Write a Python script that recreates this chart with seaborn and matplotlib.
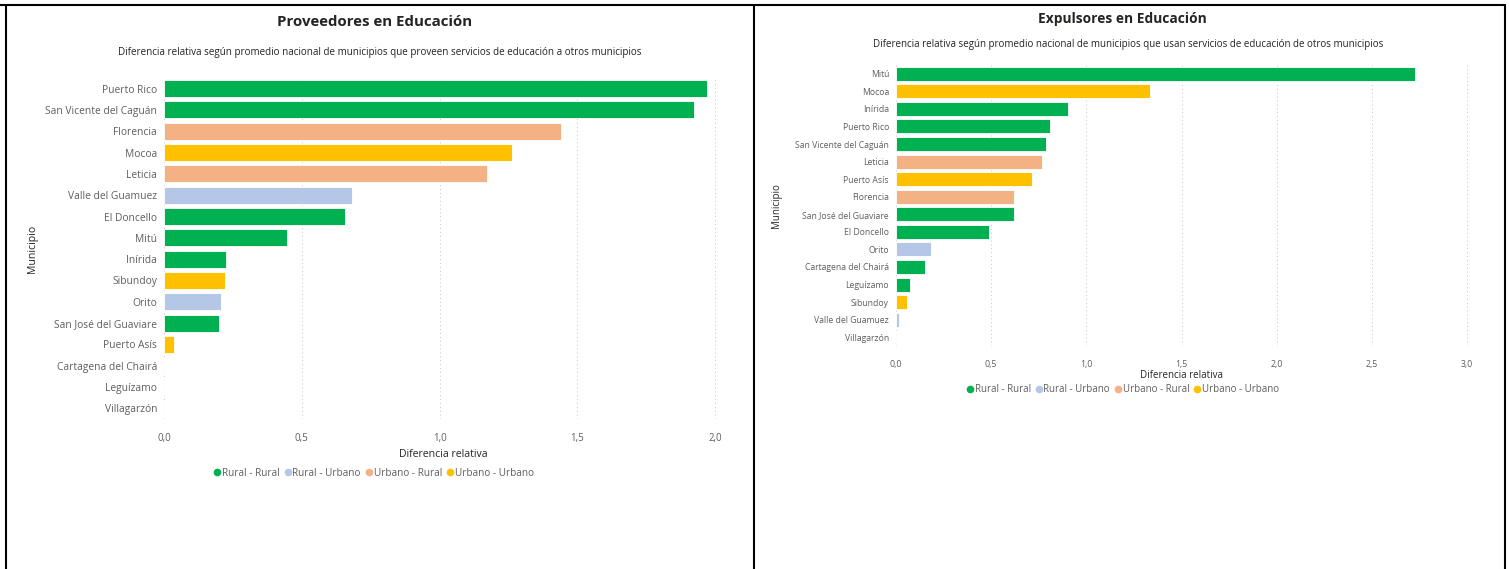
import matplotlib
matplotlib.use("Agg")
import matplotlib.pyplot as plt
import seaborn as sns
from matplotlib.lines import Line2D

# ---------------------- DATA ----------------------
tipos = ["Rural - Rural", "Rural - Urbano", "Urbano - Rural", "Urbano - Urbano"]
colores = ["#01B050", "#B4C7E7", "#F4B183", "#FFC000"]

prov_municipios = ["Puerto Rico", "San Vicente del Caguán", "Florencia", "Mocoa", "Leticia",
                   "Valle del Guamuez", "El Doncello", "Mitú", "Inírida", "Sibundoy", "Orito",
                   "San José del Guaviare", "Puerto Asís", "Cartagena del Chairá", "Leguízamo",
                   "Villagarzón"]
prov_valores = [1.972, 1.924, 1.439, 1.263, 1.173, 0.681, 0.656, 0.445, 0.225, 0.223, 0.207,
                0.200, 0.035, 0.0, 0.0, 0.0]
prov_tipo = ["Rural - Rural", "Rural - Rural", "Urbano - Rural", "Urbano - Urbano", "Urbano - Rural",
             "Rural - Urbano", "Rural - Rural", "Rural - Rural", "Rural - Rural", "Urbano - Urbano",
             "Rural - Urbano", "Rural - Rural", "Urbano - Urbano", "Rural - Rural", "Rural - Rural",
             "Rural - Rural"]

exp_municipios = ["Mitú", "Mocoa", "Inírida", "Puerto Rico", "San Vicente del Caguán", "Leticia",
                  "Puerto Asís", "Florencia", "San José del Guaviare", "El Doncello", "Orito",
                  "Cartagena del Chairá", "Leguízamo", "Sibundoy", "Valle del Guamuez", "Villagarzón"]
exp_valores = [2.726, 1.337, 0.902, 0.810, 0.787, 0.765, 0.713, 0.622, 0.618, 0.490, 0.184,
               0.153, 0.073, 0.059, 0.014, 0.0]
exp_tipo = ["Rural - Rural", "Urbano - Urbano", "Rural - Rural", "Rural - Rural", "Rural - Rural",
            "Urbano - Rural", "Urbano - Urbano", "Urbano - Rural", "Rural - Rural", "Rural - Rural",
            "Rural - Urbano", "Rural - Rural", "Rural - Rural", "Urbano - Urbano", "Rural - Urbano",
            "Rural - Rural"]

paleta = dict(zip(tipos, colores))

sns.set_style("white")
plt.rcParams['font.family'] = ['Open Sans', 'DejaVu Sans']

GRIS = "#605E5C"
OSCURO = "#252423"

W, H = 1509, 569
fig = plt.figure(figsize=(W / 100, H / 100), dpi=100)


def px(x0, y0, x1, y1):
    return [x0 / W, 1 - y1 / H, (x1 - x0) / W, (y1 - y0) / H]


def panel(ax, municipios, valores, tipo, xmax, ticks, fs_tick, fs_lab):
    sns.barplot(x=valores, y=municipios, hue=tipo, order=municipios, hue_order=tipos,
                palette=paleta, saturation=1, dodge=False, width=0.8, orient="h", legend=False,
                edgecolor="white", linewidth=0.6, ax=ax)
    ax.set_xlim(0, xmax)
    ax.set_xticks(ticks)
    ax.set_xticklabels([f"{t:.1f}".replace(".", ",") for t in ticks], color=GRIS, fontsize=fs_tick)
    ax.tick_params(axis="y", labelsize=fs_lab, labelcolor=GRIS, length=0, pad=5)
    ax.tick_params(axis="x", length=0, pad=10)
    ax.grid(axis="x", color="#C8C6C4", linestyle=(0, (1, 3)), linewidth=0.7)
    ax.set_axisbelow(True)
    for s in ax.spines.values():
        s.set_visible(False)


# ---------------------- LEFT: Proveedores ----------------------
ax1 = fig.add_axes(px(164, 78, 722, 419))
panel(ax1, prov_municipios, prov_valores, prov_tipo, 2.025, [0, 0.5, 1.0, 1.5, 2.0], 7, 7.4)
ax1.set_xlabel("Diferencia relativa", fontsize=7.6, color=OSCURO, labelpad=4)
ax1.set_ylabel("Municipio", fontsize=7.6, color=OSCURO)
ax1.yaxis.set_label_coords(-0.225, 0.5)

fig.text(375 / W, 1 - 22 / H, "Proveedores en Educación", ha="center", va="center",
         fontsize=10.8, fontweight="bold", color=OSCURO)
fig.text(380 / W, 1 - 53 / H,
         "Diferencia relativa según promedio nacional de municipios que proveen servicios de educación a otros municipios",
         ha="center", va="center", fontsize=7.1, color=OSCURO)

# ---------------------- RIGHT: Expulsores ----------------------
ax2 = fig.add_axes(px(896, 65, 1468, 346))
panel(ax2, exp_municipios, exp_valores, exp_tipo, 3.005, [0, 0.5, 1.0, 1.5, 2.0, 2.5, 3.0], 6.3, 6.2)
ax2.set_xlabel("Diferencia relativa", fontsize=7, color=OSCURO, labelpad=1)
ax2.set_ylabel("Municipio", fontsize=7, color=OSCURO)
ax2.yaxis.set_label_coords(-0.2, 0.5)

fig.text(1122 / W, 1 - 19 / H, "Expulsores en Educación", ha="center", va="center",
         fontsize=9.9, fontweight="bold", color=OSCURO)
fig.text(1128 / W, 1 - 45 / H,
         "Diferencia relativa según promedio nacional de municipios que usan servicios de educación de otros municipios",
         ha="center", va="center", fontsize=7.0, color=OSCURO)

# ---------------------- LEGENDS ----------------------
handles = [Line2D([], [], marker="o", linestyle="", markersize=4.5, color=c, label=t)
           for t, c in zip(tipos, colores)]
leg_kw = dict(ncol=4, frameon=False, handletextpad=0.0, columnspacing=0.3,
              handlelength=1.0, loc="center", labelcolor=GRIS)
fig.legend(handles=handles, bbox_to_anchor=(373 / W, 1 - 473 / H), fontsize=7.2, **leg_kw)
fig.legend(handles=handles, bbox_to_anchor=(1122 / W, 1 - 390 / H), fontsize=7.0, **leg_kw)

# ---------------------- PANEL BORDERS ----------------------
for x in [6, 754, 1505]:
    fig.add_artist(Line2D([x / W, x / W], [0, 1 - 5 / H], color="black", linewidth=1.5))
fig.add_artist(Line2D([0, 1505 / W], [1 - 5 / H, 1 - 5 / H], color="black", linewidth=1.5))

fig.savefig("out.png", dpi=100, facecolor="white")
